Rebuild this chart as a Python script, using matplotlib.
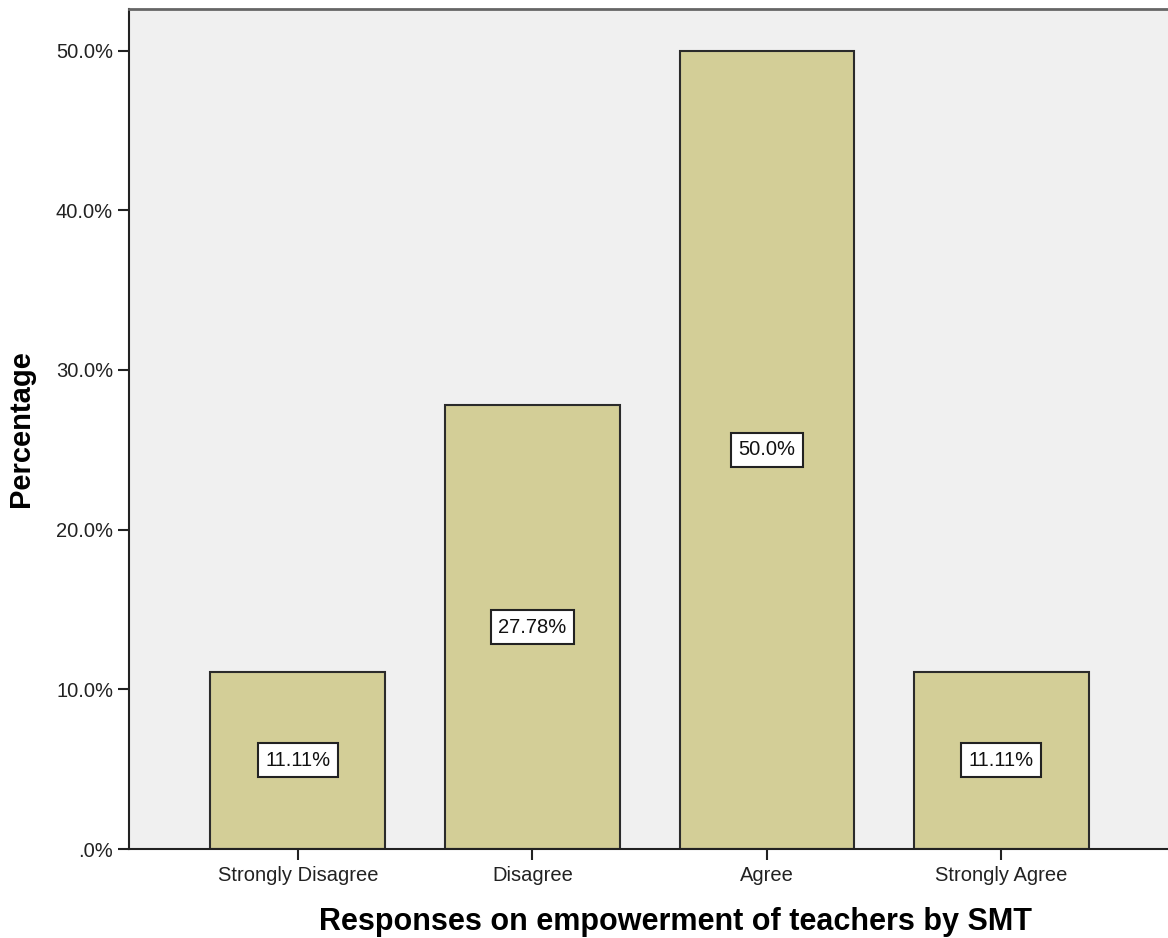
import matplotlib
matplotlib.use("Agg")
import matplotlib.pyplot as plt
from matplotlib.ticker import FuncFormatter

categories = ["Strongly Disagree", "Disagree", "Agree", "Strongly Agree"]
percentages = [11.11, 27.78, 50.0, 11.11]
value_labels = ["11.11%", "27.78%", "50.0%", "11.11%"]
y_ticks = [0, 10, 20, 30, 40, 50]

plt.rcParams['font.family'] = ['Liberation Sans', 'DejaVu Sans']

fig = plt.figure(figsize=(11.68, 9.38), dpi=100)
ax = fig.add_axes([129/1168, 89/938, 1 - 129/1168 + 0.01, (849-9)/938])
ax.set_facecolor("#F0F0F0")

x = list(range(len(categories)))
ax.bar(x, percentages, width=0.745, color="#D3CE97", edgecolor="#2b2b2b", linewidth=1.5, zorder=2)

for xi, v, lab in zip(x, percentages, value_labels):
    ax.text(xi, v / 2, lab, ha="center", va="center", fontsize=14.5, color="#111111", zorder=3,
            bbox=dict(boxstyle="square,pad=0.37", facecolor="white", edgecolor="#222222", linewidth=1.5))

ax.set_xlim(-0.72, 3.76)
ax.set_ylim(0, 52.6)
ax.set_yticks(y_ticks)
ax.yaxis.set_major_formatter(FuncFormatter(lambda v, p: ".0%" if v == 0 else f"{v:.1f}%"))
ax.set_xticks(x)
ax.set_xticklabels(categories)
ax.tick_params(axis="both", labelsize=14.5, colors="#222222", length=8, width=1.5, direction="out")
ax.tick_params(axis="x", pad=4)

for s in ["left", "bottom"]:
    ax.spines[s].set_color("#222222")
    ax.spines[s].set_linewidth(1.5)
ax.spines["top"].set_color("#666666")
ax.spines["top"].set_linewidth(2)
ax.spines["right"].set_visible(False)

ax.set_xlabel("Responses on empowerment of teachers by SMT", fontsize=22, fontweight="bold",
              labelpad=16, x=0.52)
ax.set_ylabel("Percentage", fontsize=21, fontweight="bold", labelpad=15)

fig.savefig("out.png", dpi=100)
